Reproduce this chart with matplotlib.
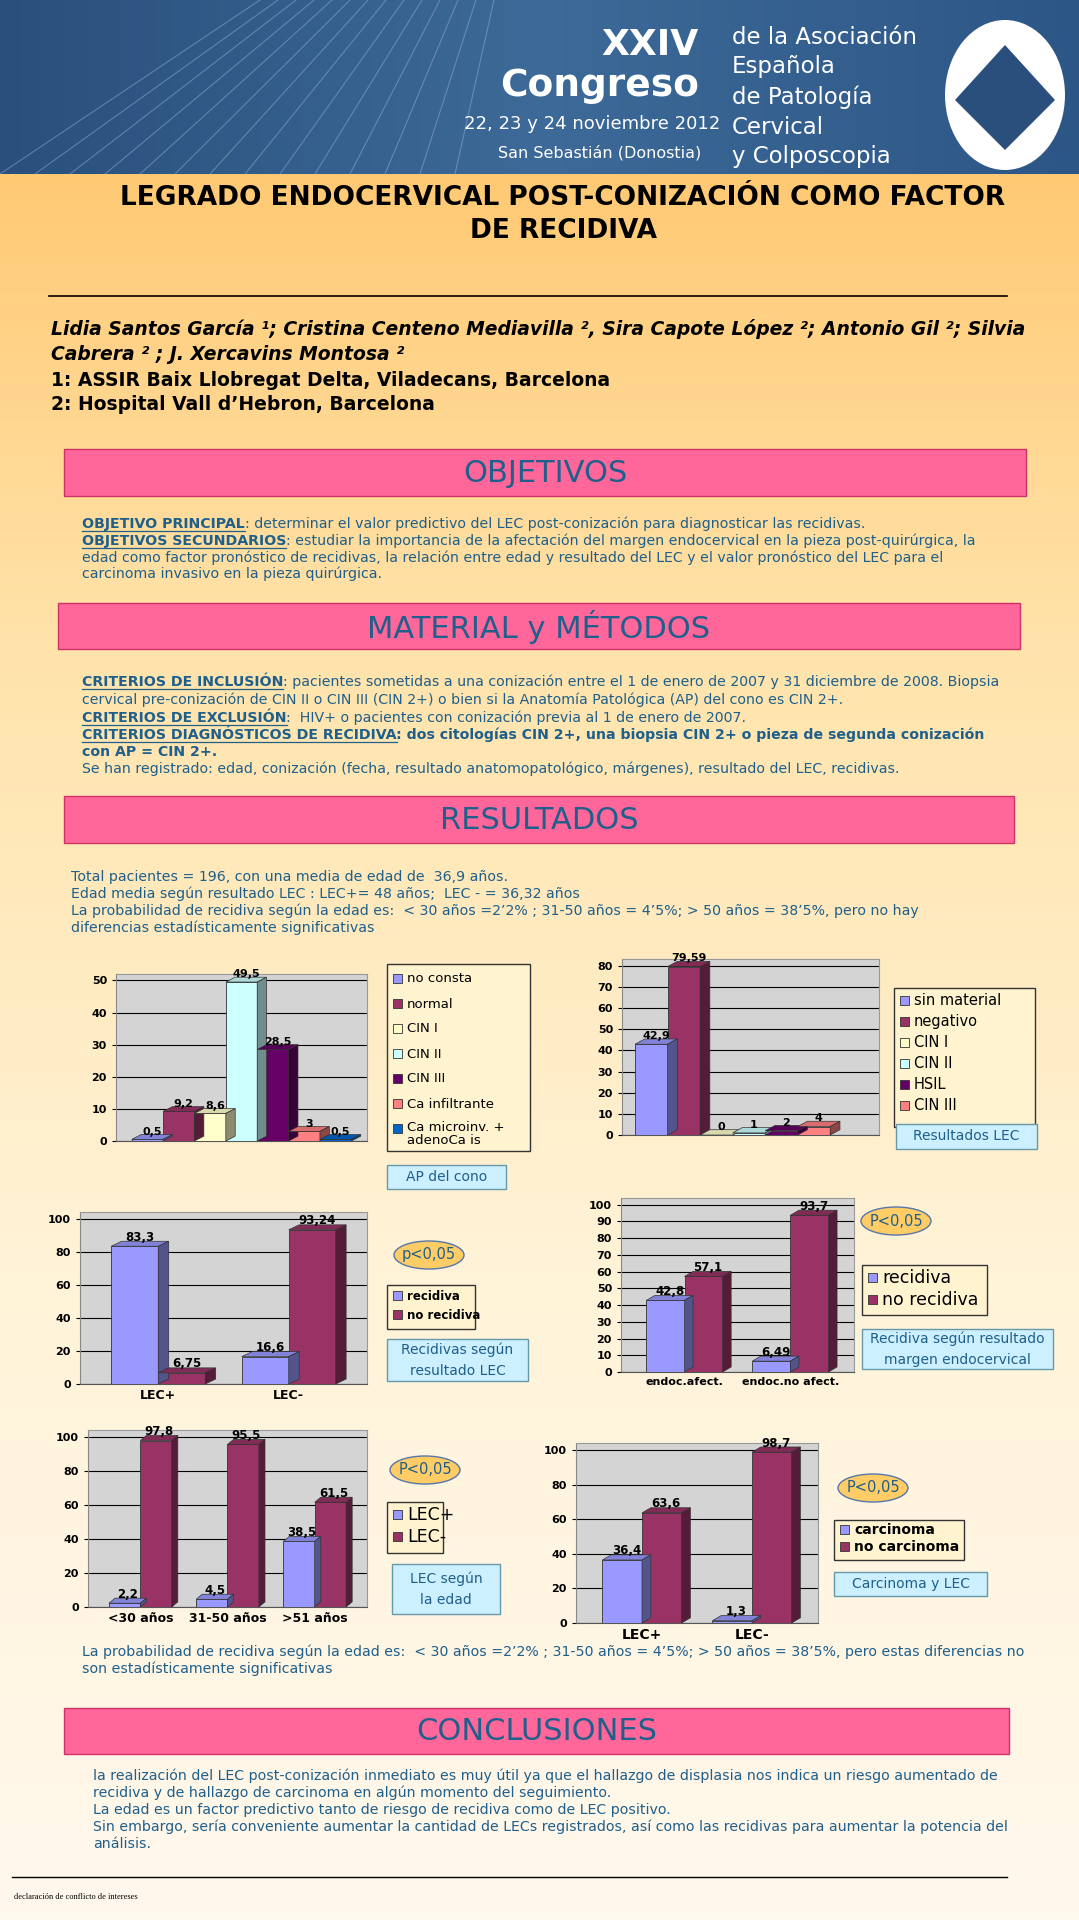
import matplotlib
matplotlib.use("Agg")
import matplotlib.pyplot as plt
import numpy as np
from matplotlib.patches import Rectangle, Polygon, Ellipse
import matplotlib.colors as mc

plt.rcParams['font.family'] = ['DejaVu Sans']

W, H = 1079, 1920
fig = plt.figure(figsize=(W/100, H/100), dpi=100)

# ---------- data ----------
c1_labels = ["no consta", "normal", "CIN I", "CIN II", "CIN III", "Ca infiltrante", "Ca microinv. +\nadenoCa is"]
c1_values = [0.5, 9.2, 8.6, 49.5, 28.5, 3, 0.5]
c1_colors = ["#9999FF", "#993366", "#FFFFCC", "#CCFFFF", "#660066", "#FF8080", "#0066CC"]

c2_labels = ["sin material", "negativo", "CIN I", "CIN II", "HSIL", "CIN III"]
c2_values = [42.9, 79.59, 0, 1, 2, 4]
c2_colors = ["#9999FF", "#993366", "#FFFFCC", "#CCFFFF", "#660066", "#FF8080"]

c3_cats = ["LEC+", "LEC-"]
c3_series = ["recidiva", "no recidiva"]
c3_vals = [[83.3, 16.6], [6.75, 93.24]]
c3_lbls = [["83,3", "16,6"], ["6,75", "93,24"]]

c4_cats = ["endoc.afect.", "endoc.no afect."]
c4_series = ["recidiva", "no recidiva"]
c4_vals = [[42.8, 6.49], [57.1, 93.7]]
c4_lbls = [["42,8", "6,49"], ["57,1", "93,7"]]

c5_cats = ["<30 años", "31-50 años", ">51 años"]
c5_series = ["LEC+", "LEC-"]
c5_vals = [[2.2, 4.5, 38.5], [97.8, 95.5, 61.5]]
c5_lbls = [["2,2", "4,5", "38,5"], ["97,8", "95,5", "61,5"]]

c6_cats = ["LEC+", "LEC-"]
c6_series = ["carcinoma", "no carcinoma"]
c6_vals = [[36.4, 1.3], [63.6, 98.7]]
c6_lbls = [["36,4", "1,3"], ["63,6", "98,7"]]

pair_colors = ["#9999FF", "#993366"]
TXT = "#1F5F8B"
PINK = "#FF6699"

# ---------- background ----------
bg = fig.add_axes([0, 0, 1, 1])
bg.set_xlim(0, W); bg.set_ylim(H, 0); bg.axis("off")
grad = np.linspace(0, 1, 256)[:, None]
cmap = mc.LinearSegmentedColormap.from_list("g", ["#FFC060", "#FFE3AA", "#FFF3D8", "#FFF8EC"])
bg.imshow(grad, extent=[0, W, H, 0], aspect="auto", cmap=cmap, zorder=0)

# header
cmh = mc.LinearSegmentedColormap.from_list("h", ["#2A4F7C", "#3D6A98", "#2C5686"])
bg.imshow(np.linspace(0, 1, 256)[None, :], extent=[0, W, 174, 0], aspect="auto", cmap=cmh, zorder=1)
for i in range(14):
    bg.plot([0 + i*35, 260 + i*18], [174, 0], color="#8FB0D6", lw=0.8, alpha=0.5, zorder=2)
bg.text(650, 45, "XXIV", color="white", fontsize=26, fontweight="bold", ha="center", va="center", zorder=3)
bg.text(600, 86, "Congreso", color="white", fontsize=27, fontweight="bold", ha="center", va="center", zorder=3)
bg.text(592, 124, "22, 23 y 24 noviembre 2012", color="white", fontsize=13, ha="center", va="center", zorder=3)
bg.text(600, 153, "San Sebastián (Donostia)", color="white", fontsize=11.5, ha="center", va="center", zorder=3)
for k, t in enumerate(["de la Asociación", "Española", "de Patología", "Cervical", "y Colposcopia"]):
    bg.text(732, 37 + k*30, t, color="white", fontsize=16.5, ha="left", va="center", zorder=3)
bg.add_patch(Ellipse((1005, 95), 120, 150, facecolor="white", edgecolor="none", zorder=3))
bg.add_patch(Polygon([[1005, 45], [1055, 100], [1005, 150], [955, 100]], closed=True, facecolor="#2A4F7C", zorder=4))

# title
bg.text(563, 198, "LEGRADO ENDOCERVICAL POST-CONIZACIÓN COMO FACTOR", fontsize=19, fontweight="bold", ha="center", va="center")
bg.text(563, 231, "DE RECIDIVA", fontsize=19, fontweight="bold", ha="center", va="center")
bg.plot([49, 1007], [296, 296], color="black", lw=1.2)
bg.text(51, 329, "Lidia Santos García ¹; Cristina Centeno Mediavilla ², Sira Capote López ²; Antonio Gil ²; Silvia",
        fontsize=13.5, fontweight="bold", style="italic", va="center")
bg.text(51, 354, "Cabrera ² ; J. Xercavins Montosa ²", fontsize=13.5, fontweight="bold", style="italic", va="center")
bg.text(51, 380, "1: ASSIR Baix Llobregat Delta, Viladecans, Barcelona", fontsize=13.5, fontweight="bold", va="center")
bg.text(51, 405, "2: Hospital Vall d’Hebron, Barcelona", fontsize=13.5, fontweight="bold", va="center")

def section(x0, x1, y0, y1, title):
    bg.add_patch(Rectangle((x0, y0), x1-x0, y1-y0, facecolor=PINK, edgecolor="#CC3366", lw=1, zorder=2))
    bg.text((x0+x1)/2, (y0+y1)/2 + 1, title, fontsize=22, color=TXT, ha="center", va="center", zorder=3)

section(64, 1026, 449, 496, "OBJETIVOS")
section(58, 1020, 603, 649, "MATERIAL y MÉTODOS")
section(64, 1014, 796, 843, "RESULTADOS")
section(64, 1009, 1708, 1754, "CONCLUSIONES")

fs = 10.2
renderer = fig.canvas.get_renderer()
def tline(x, y, parts):
    cur = x
    for t, b, u in parts:
        tt = bg.text(cur, y, t, fontsize=fs, color=TXT, fontweight="bold" if b else "normal", va="center")
        w = tt.get_window_extent(renderer=renderer).width
        if u:
            bg.plot([cur, cur+w], [y+7, y+7], color=TXT, lw=0.9)
        cur += w

tline(82, 524, [("OBJETIVO PRINCIPAL", True, True), (": determinar el valor predictivo del LEC post-conización para diagnosticar las recidivas.", False, False)])
tline(82, 541, [("OBJETIVOS SECUNDARIOS", True, True), (": estudiar la importancia de la afectación del margen endocervical en la pieza post-quirúrgica, la", False, False)])
tline(82, 558, [("edad como factor pronóstico de recidivas, la relación entre edad y resultado del LEC y el valor pronóstico del LEC para el", False, False)])
tline(82, 574, [("carcinoma invasivo en la pieza quirúrgica.", False, False)])

tline(82, 682, [("CRITERIOS DE INCLUSIÓN", True, True), (": pacientes sometidas a una conización entre el 1 de enero de 2007 y 31 diciembre de 2008. Biopsia", False, False)])
tline(82, 700, [("cervical pre-conización de CIN II o CIN III (CIN 2+) o bien si la Anatomía Patológica (AP) del cono es CIN 2+.", False, False)])
tline(82, 718, [("CRITERIOS DE EXCLUSIÓN", True, True), (":  HIV+ o pacientes con conización previa al 1 de enero de 2007.", False, False)])
tline(82, 735, [("CRITERIOS DIAGNÓSTICOS DE RECIDIVA", True, True), (": dos citologías CIN 2+, una biopsia CIN 2+ o pieza de segunda conización", True, False)])
tline(82, 752, [("con AP = CIN 2+.", True, False)])
tline(82, 769, [("Se han registrado: edad, conización (fecha, resultado anatomopatológico, márgenes), resultado del LEC, recidivas.", False, False)])

tline(71, 877, [("Total pacientes = 196, con una media de edad de  36,9 años.", False, False)])
tline(71, 894, [("Edad media según resultado LEC : LEC+= 48 años;  LEC - = 36,32 años", False, False)])
tline(71, 911, [("La probabilidad de recidiva según la edad es:  < 30 años =2’2% ; 31-50 años = 4’5%; > 50 años = 38’5%, pero no hay", False, False)])
tline(71, 928, [("diferencias estadísticamente significativas", False, False)])

tline(82, 1652, [("La probabilidad de recidiva según la edad es:  < 30 años =2’2% ; 31-50 años = 4’5%; > 50 años = 38’5%, pero estas diferencias no", False, False)])
tline(82, 1669, [("son estadísticamente significativas", False, False)])

tline(93, 1776, [("la realización del LEC post-conización inmediato es muy útil ya que el hallazgo de displasia nos indica un riesgo aumentado de", False, False)])
tline(93, 1793, [("recidiva y de hallazgo de carcinoma en algún momento del seguimiento.", False, False)])
tline(93, 1810, [("La edad es un factor predictivo tanto de riesgo de recidiva como de LEC positivo.", False, False)])
tline(93, 1827, [("Sin embargo, sería conveniente aumentar la cantidad de LECs registrados, así como las recidivas para aumentar la potencia del", False, False)])
tline(93, 1844, [("análisis.", False, False)])

bg.plot([12, 1007], [1877, 1877], color="black", lw=1)
bg.text(14, 1897, "declaración de conflicto de intereses", fontsize=6, family="Liberation Serif", va="center")

# ---------- helpers ----------
def add_axes_px(x0, y0, x1, y1):
    return fig.add_axes([x0/W, 1 - y1/H, (x1-x0)/W, (y1-y0)/H])

def darker(c, f):
    r, g, b = mc.to_rgb(c)
    return (r*f, g*f, b*f)

def bar3d(ax, xs, vals, width, color, dx, dy):
    bars = ax.bar(xs, vals, width, color=color, edgecolor="#333333", lw=0.6, zorder=5)
    for p in bars:
        x, y, w, h = p.get_x(), p.get_y(), p.get_width(), p.get_height()
        ax.add_patch(Polygon([[x, y+h], [x+dx, y+h+dy], [x+w+dx, y+h+dy], [x+w, y+h]],
                             closed=True, facecolor=darker(color, 0.85), edgecolor="#333333", lw=0.5, zorder=6))
        ax.add_patch(Polygon([[x+w, y], [x+w+dx, y+dy], [x+w+dx, y+h+dy], [x+w, y+h]],
                             closed=True, facecolor=darker(color, 0.55), edgecolor="#333333", lw=0.5, zorder=6))
    return bars

def style_ax(ax, ymax, step, fsz=8):
    ax.set_facecolor("#D4D4D4")
    ax.set_ylim(0, ymax*1.04)
    ax.set_yticks(np.arange(0, ymax+0.1, step))
    ax.yaxis.grid(True, color="black", lw=0.8, zorder=1)
    ax.set_axisbelow(True)
    for s in ["top", "right"]:
        ax.spines[s].set_color("#999999")
    ax.spines["left"].set_color("#888888"); ax.spines["bottom"].set_color("#555555")
    ax.tick_params(axis="y", labelsize=fsz, length=3)
    for t in ax.get_yticklabels():
        t.set_fontweight("bold")

def legend_box(x0, y0, x1, y1, labels, colors, fsz, gap, bold=False):
    bg.add_patch(Rectangle((x0, y0), x1-x0, y1-y0, facecolor="#FFF3D0", edgecolor="#333333", lw=1, zorder=2))
    for i, (l, c) in enumerate(zip(labels, colors)):
        yy = y0 + gap*0.6 + i*gap
        bg.add_patch(Rectangle((x0+6, yy-5), 9, 9, facecolor=c, edgecolor="#333333", lw=0.6, zorder=3))
        if "\n" in l:
            bg.text(x0+20, yy-8, l, fontsize=fsz, va="top", linespacing=1.0, zorder=3,
                    fontweight="bold" if bold else "normal")
        else:
            bg.text(x0+20, yy, l, fontsize=fsz, va="center", zorder=3,
                    fontweight="bold" if bold else "normal")

def caption(x0, y0, x1, y1, text, fsz=10):
    bg.add_patch(Rectangle((x0, y0), x1-x0, y1-y0, facecolor="#CCF0FF", edgecolor="#6699AA", lw=1, zorder=2))
    bg.text((x0+x1)/2, (y0+y1)/2, text, fontsize=fsz, color=TXT, ha="center", va="center", linespacing=1.6, zorder=3)

def pval(cx, cy, text):
    bg.add_patch(Ellipse((cx, cy), 70, 28, facecolor="#FFCC66", edgecolor="#5577AA", lw=1, zorder=2))
    bg.text(cx, cy, text, fontsize=10.5, color=TXT, ha="center", va="center", zorder=3)

# ---------- chart 1 ----------
ax = add_axes_px(116, 974, 367, 1141)
xs = np.arange(len(c1_values))
for i, (v, c) in enumerate(zip(c1_values, c1_colors)):
    bar3d(ax, [xs[i]], [v], 1.0, c, 0.3, 1.5)
    ax.text(xs[i]+0.15, v+0.8, f"{v:g}".replace(".", ","),
            fontsize=8, fontweight="bold", ha="center", va="bottom", zorder=8)
style_ax(ax, 50, 10)
ax.set_xlim(-1.0, 7.0); ax.set_xticks([])
legend_box(387, 964, 530, 1151, c1_labels, c1_colors, 9.5, 25)
caption(387, 1165, 506, 1189, "AP del cono")

# ---------- chart 2 ----------
ax = add_axes_px(622, 959, 879, 1135)
xs = np.arange(len(c2_values))
for i, (v, c) in enumerate(zip(c2_values, c2_colors)):
    bar3d(ax, [xs[i]], [v], 1.0, c, 0.3, 2.5)
    ax.text(xs[i]+0.15, v+1.5, f"{v:g}".replace(".", ","), fontsize=8, fontweight="bold",
            ha="center", va="bottom", zorder=8)
style_ax(ax, 80, 10)
ax.set_xlim(-0.9, 7.0); ax.set_xticks([])
legend_box(894, 988, 1035, 1127, c2_labels, c2_colors, 10.5, 21)
caption(896, 1124, 1037, 1149, "Resultados LEC")

# ---------- paired charts ----------
def paired(rect, cats, series, vals, lbls, ymax, step, dx, dy, xfs=9):
    ax = add_axes_px(*rect)
    x = np.arange(len(cats))
    w = 0.36
    for s in range(len(series)):
        pos = x + (s - 0.5) * w
        bar3d(ax, pos, vals[s], w, pair_colors[s], dx, dy)
        for p, v, l in zip(pos, vals[s], lbls[s]):
            ax.text(p + dx/2, v + dy*0.5, l, fontsize=8.5, fontweight="bold", ha="center", va="bottom", zorder=8)
    style_ax(ax, ymax, step)
    ax.set_xlim(-0.6, len(cats)-0.4)
    ax.set_xticks(x); ax.set_xticklabels(cats, fontsize=xfs, fontweight="bold")
    ax.tick_params(axis="x", length=0)
    return ax

paired((80, 1212, 367, 1384), c3_cats, c3_series, c3_vals, c3_lbls, 100, 20, 0.08, 3)
pval(429, 1255, "p<0,05")
legend_box(387, 1285, 475, 1329, c3_series, pair_colors, 8.5, 19, bold=True)
caption(387, 1339, 528, 1381, "Recidivas según\nresultado LEC", 10)

paired((621, 1198, 854, 1372), c4_cats, c4_series, c4_vals, c4_lbls, 100, 10, 0.08, 3, xfs=8)
pval(896, 1221, "P<0,05")
legend_box(862, 1265, 987, 1315, c4_series, pair_colors, 12.5, 22)
caption(862, 1329, 1053, 1369, "Recidiva según resultado\nmargen endocervical", 10)

paired((88, 1430, 367, 1607), c5_cats, c5_series, c5_vals, c5_lbls, 100, 20, 0.07, 3)
pval(425, 1470, "P<0,05")
legend_box(387, 1502, 443, 1553, c5_series, pair_colors, 12.5, 22)
caption(392, 1564, 500, 1614, "LEC según\nla edad", 10)

paired((576, 1443, 818, 1623), c6_cats, c6_series, c6_vals, c6_lbls, 100, 20, 0.08, 3, xfs=10)
pval(873, 1488, "P<0,05")
legend_box(834, 1520, 964, 1560, c6_series, pair_colors, 10, 17, bold=True)
caption(834, 1572, 987, 1596, "Carcinoma y LEC", 10)

fig.savefig("out.png", dpi=100)
